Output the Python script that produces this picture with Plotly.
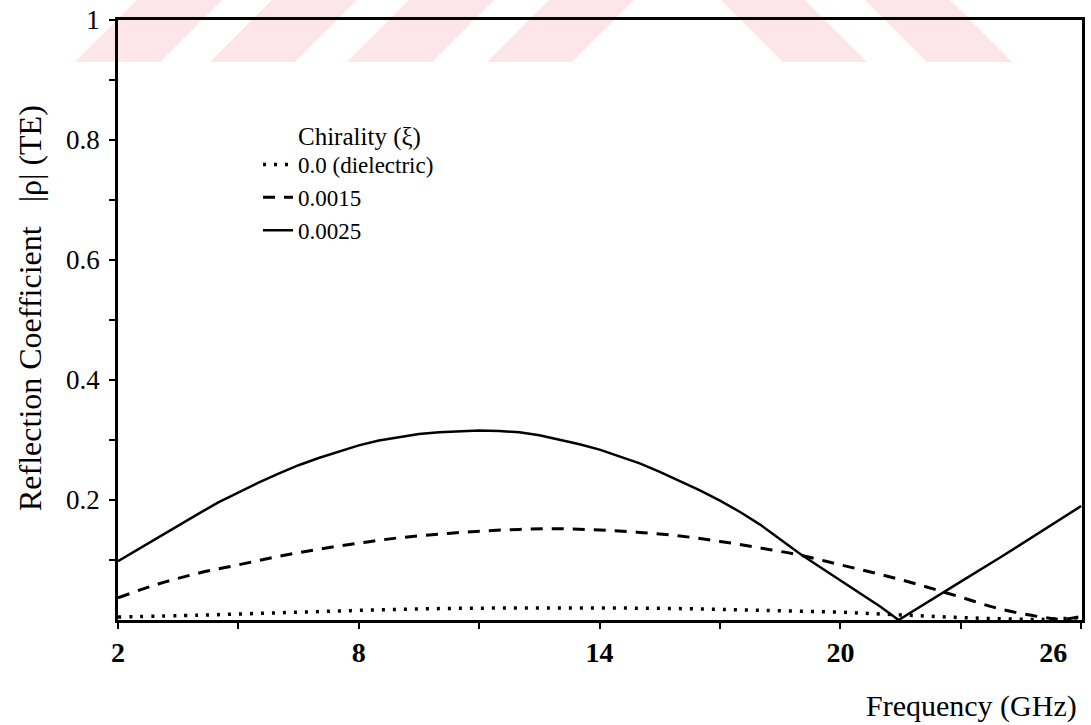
import plotly.graph_objects as go

# ---- data ----
freq_solid = [2, 2.5, 3, 3.5, 4, 4.5, 5, 5.5, 6, 6.5, 7, 7.5, 8, 8.5, 9, 9.5, 10, 10.5, 11, 11.5, 12, 12.5,
              13, 13.5, 14, 14.5, 15, 15.5, 16, 16.5, 17, 17.5, 18, 18.5, 19, 19.5, 20, 20.5, 21, 21.45,
              22, 23, 24, 25, 26]
rho_0025 = [0.098, 0.118, 0.138, 0.158, 0.177, 0.196, 0.213, 0.229, 0.244, 0.258, 0.270, 0.281, 0.291,
            0.299, 0.305, 0.310, 0.313, 0.315, 0.316, 0.315, 0.313, 0.308, 0.301, 0.293, 0.284, 0.273,
            0.261, 0.247, 0.232, 0.216, 0.199, 0.180, 0.159, 0.135, 0.110, 0.088, 0.066, 0.044, 0.022,
            0.0, 0.023, 0.064, 0.105, 0.148, 0.190]

freq_dash = [2, 3, 4, 5, 6, 7, 8, 9, 10, 11, 12, 13, 14, 15, 16, 17, 18, 19, 20, 21, 22, 23, 24, 25, 25.5, 26]
rho_0015 = [0.037, 0.060, 0.078, 0.092, 0.106, 0.118, 0.128, 0.137, 0.143, 0.148, 0.151, 0.152, 0.150, 0.146,
            0.140, 0.131, 0.120, 0.108, 0.092, 0.076, 0.058, 0.038, 0.018, 0.005, 0.001, 0.006]

freq_dot = [2, 4, 6, 8, 10, 12, 14, 16, 18, 20, 21, 22, 23, 24, 25, 26]
rho_0000 = [0.005, 0.008, 0.012, 0.016, 0.019, 0.020, 0.020, 0.019, 0.016, 0.013, 0.010, 0.007, 0.004, 0.002,
            0.001, 0.004]

legend_names = ["0.0 (dielectric)", "0.0015", "0.0025"]
legend_title = "Chirality (\u03be)"

x_tickvals = [2, 5, 8, 11, 14, 17, 20, 23, 26]
x_ticktext = ["<b>2</b>", "", "<b>8</b>", "", "<b>14</b>", "", "<b>20</b>", "",
              "<b>26</b>\u2003\u2003"]
y_tickvals = [0.1, 0.2, 0.3, 0.4, 0.5, 0.6, 0.7, 0.8, 0.9, 1.0]
y_ticktext = ["", "0.2", "", "0.4", "", "0.6", "", "0.8", "", "1"]

X_RANGE = [2, 26.02]
Y_RANGE = [0, 1.0]

FONT = "Liberation Serif"

# ---- page geometry (pixels) ----
W, H = 1091, 725
L, R, T, B = 118, 9, 20, 105
PW, PH = W - L - R, H - T - B


def px(xp):
    return (xp - L) / PW


def py(yp):
    return (H - B - yp) / PH


fig = go.Figure()
fig.add_trace(go.Scatter(x=freq_dot, y=rho_0000, mode="lines", name=legend_names[0],
                         line=dict(color="black", width=3.5, dash="3px,8px", shape="spline")))
fig.add_trace(go.Scatter(x=freq_dash, y=rho_0015, mode="lines", name=legend_names[1],
                         line=dict(color="black", width=3, dash="12px,9px", shape="spline")))
fig.add_trace(go.Scatter(x=freq_solid, y=rho_0025, mode="lines", name=legend_names[2],
                         line=dict(color="black", width=2.5)))

axis_common = dict(showgrid=False, zeroline=False, showline=True, linecolor="black", linewidth=2.5,
                   mirror=True, ticks="outside", ticklen=6, tickwidth=2, tickcolor="black",
                   automargin=False)
overlay_common = dict(showgrid=False, zeroline=False, showline=False, ticks="inside", ticklen=6,
                      tickwidth=2, tickcolor="black", showticklabels=False, automargin=False)

# faint pink watermark stripes along the top of the page (bottom-left x, bottom-right x, top shift)
stripe_color = "rgb(253,230,235)"
stripe_specs = [(75, 160, 62), (210, 295, 62), (347, 432, 62), (487, 572, 62),
                (783, 867, -62), (927, 1012, -62)]
shapes = []
for xa, xb, sh in stripe_specs:
    pts = [(xa, 62), (xb, 62), (xb + sh, 0), (xa + sh, 0)]
    path = "M " + " L ".join(f"{px(a):.5f},{py(b):.5f}" for a, b in pts) + " Z"
    shapes.append(dict(type="path", xref="paper", yref="paper", path=path, fillcolor=stripe_color,
                       line=dict(width=0), layer="below"))

fig.update_layout(
    width=W, height=H,
    margin=dict(l=L, r=R, t=T, b=B, autoexpand=False),
    paper_bgcolor="white", plot_bgcolor="rgba(0,0,0,0)",
    font=dict(family=FONT, color="black", size=24),
    showlegend=True,
    legend=dict(x=px(258), y=py(143), xanchor="left", yanchor="top", bgcolor="rgba(0,0,0,0)",
                font=dict(size=23, family=FONT), tracegroupgap=0),
    xaxis=dict(range=X_RANGE, tickvals=x_tickvals, ticktext=x_ticktext, ticklabeloverflow="allow",
               tickfont=dict(size=28, family=FONT), **axis_common),
    yaxis=dict(range=Y_RANGE, tickvals=y_tickvals, ticktext=y_ticktext, ticklabelstandoff=4,
               tickfont=dict(size=27, family=FONT), **axis_common),
    xaxis2=dict(range=X_RANGE, tickvals=x_tickvals, overlaying="x", anchor="y", side="bottom",
                **overlay_common),
    yaxis2=dict(range=Y_RANGE, tickvals=y_tickvals, overlaying="y", anchor="x", side="left",
                **overlay_common),
    shapes=shapes,
    annotations=[
        dict(text=legend_title, xref="paper", yref="paper", x=px(296), y=py(137),
             xanchor="left", yanchor="middle", showarrow=False, font=dict(size=25, family=FONT)),
        dict(text="Frequency (GHz)", xref="paper", yref="paper", x=px(1079), y=py(706),
             xanchor="right", yanchor="middle", showarrow=False, font=dict(size=30, family=FONT)),
        dict(text="Reflection Coefficient \u2002|\u03c1| (TE)", xref="paper", yref="paper",
             x=px(30), y=py(308), textangle=-90,
             xanchor="center", yanchor="middle", showarrow=False, font=dict(size=32, family=FONT)),
    ],
)

fig.write_html("out.html")
